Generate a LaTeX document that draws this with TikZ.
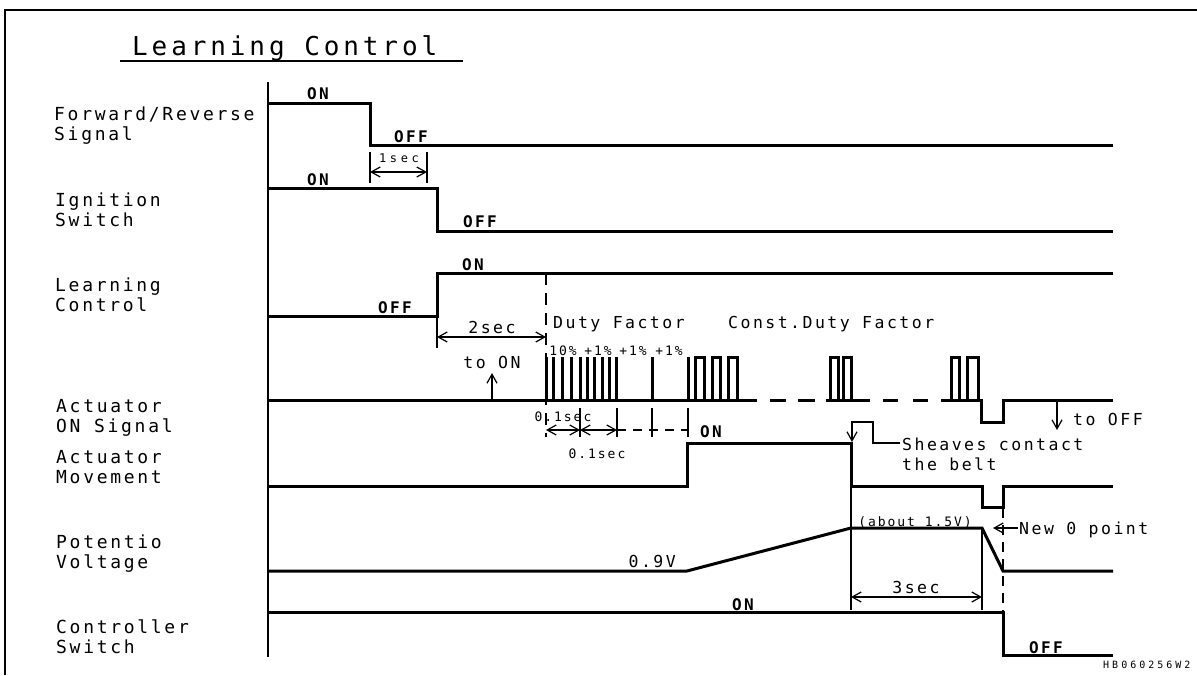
\documentclass[tikz,border=0pt]{standalone}
\usepackage{fontspec}
\usepackage{tikz}
\usetikzlibrary{arrows.meta}

\newfontfamily\tdfont[LetterSpace=15]{DejaVu Sans Mono}
\newfontfamily\codefont[LetterSpace=30]{DejaVu Sans Mono}
\newcommand{\titlesize}{\tdfont\fontsize{26pt}{26pt}\selectfont}
\newcommand{\rowsize}{\tdfont\fontsize{18pt}{18pt}\selectfont}
\newcommand{\midsize}{\tdfont\fontsize{16.5pt}{16.5pt}\selectfont}
\newcommand{\statesize}{\tdfont\bfseries\fontsize{16pt}{16pt}\selectfont}
\newcommand{\tinysize}{\tdfont\fontsize{13pt}{13pt}\selectfont}
\newcommand{\codesize}{\codefont\fontsize{10pt}{10pt}\selectfont}

\tikzset{
    sig/.style={line width=3pt},
    thinln/.style={line width=1.2pt},
    dimln/.style={thinln, <->},
    dashln/.style={thinln, dash pattern=on 12pt off 8pt},
    rowlbl/.style={font=\rowsize, anchor=base west, inner sep=0pt},
    state/.style={font=\statesize, anchor=base, inner sep=0pt},
    note/.style={font=\midsize, anchor=base west, inner sep=0pt},
    tiny/.style={font=\tinysize, anchor=base, inner sep=0pt},
}

\begin{document}
\begin{tikzpicture}[x=1pt, y=-1pt, >={Straight Barb[length=9pt,width=10pt]}]
    \useasboundingbox (0,0) rectangle (1197,675);

    % 1. Khung, tiêu đề và trục thời gian
    \draw[line width=1.4pt] (1197,10) -- (5,10) -- (5,675);
    \node[font=\titlesize, anchor=base west, inner sep=0pt] (title) at (132,55) {Learning Control};
    \draw[line width=1.4pt] (120,61) -- (463,61);
    \draw[thinln] (268,82) -- (268,657);

    % 2. Tên các tín hiệu
    \node[rowlbl] (fr1) at (54,120) {Forward/Reverse};
    \node[rowlbl] (fr2) at (54,140) {Signal};
    \node[rowlbl] (ig1) at (55,206) {Ignition};
    \node[rowlbl] (ig2) at (55,226) {Switch};
    \node[rowlbl] (lc1) at (55,291) {Learning};
    \node[rowlbl] (lc2) at (55,311) {Control};
    \node[rowlbl] (ac1) at (56,412) {Actuator};
    \node[rowlbl] (ac2) at (56,432) {ON Signal};
    \node[rowlbl] (mv1) at (56,463) {Actuator};
    \node[rowlbl] (mv2) at (56,483) {Movement};
    \node[rowlbl] (pv1) at (56,548) {Potentio};
    \node[rowlbl] (pv2) at (56,568) {Voltage};
    \node[rowlbl] (cs1) at (56,633) {Controller};
    \node[rowlbl] (cs2) at (56,653) {Switch};

    % 3. Forward/Reverse, Ignition, Learning Control
    \draw[sig] (268,103) -- (370,103) -- (370,145) -- (1113,145);
    \draw[sig] (268,188) -- (437,188) -- (437,231) -- (1113,231);
    \draw[sig] (268,316) -- (437,316) -- (437,273) -- (1113,273);
    \node[state] (fron) at (318,99) {ON};
    \node[state] (froff) at (411,142) {OFF};
    \node[state] (igon) at (318,185) {ON};
    \node[state] (igoff) at (480,227) {OFF};
    \node[state] (lcon) at (473,270) {ON};
    \node[state] (lcoff) at (395,313) {OFF};

    % 1sec, 2sec
    \draw[thinln] (370,152) -- (370,183);
    \draw[thinln] (427,152) -- (427,183);
    \draw[dimln] (370,172) -- (427,172);
    \node[font=\codefont\fontsize{12pt}{12pt}\selectfont, anchor=base, inner sep=0pt] (onesec) at (399,162) {1sec};
    \draw[thinln] (437,316) -- (437,348);
    \draw[dimln] (437,337) -- (546,337);
    \node[font=\midsize, anchor=base, inner sep=0pt] (twosec) at (492,333) {2sec};
    \draw[dashln] (546,273) -- (546,437);

    % 4. Actuator ON Signal
    \node[note] (duty) at (553,328) {Duty Factor};
    \node[note] (cduty) at (728,328) {Const.Duty Factor};
    \foreach \i/\x/\t in {1/563/10\%, 2/598/+1\%, 3/633/+1\%, 4/669/+1\%}
        \node[tiny] (pc\i) at (\x,355) {\t};
    \node[font=\midsize, anchor=base, inner sep=0pt] (toon) at (492,368) {to ON};
    \draw[thinln, ->] (492,400) -- (492,373);

    \draw[sig] (268,400) -- (757,400);
    \foreach \x in {546,553,562,571,580,587,594,602,609,616,652,688}
        \draw[sig] (\x,400) -- (\x,357);
    \foreach \a/\b in {695/704, 712/720, 728/737, 830/838, 843/851, 951/959, 967/978}
        \draw[sig] (\a,400) |- (\b,357) -- (\b,400);
    \foreach \a/\b in {770/786, 798/815, 883/898, 913/928}
        \draw[sig] (\a,400) -- (\b,400);
    \draw[sig] (826,400) -- (870,400);
    \draw[sig] (941,400) -- (981,400) -- (981,422) -- (1003,422) -- (1003,400) -- (1113,400);
    \draw[thinln, ->] (1057,401) -- (1057,430);
    \node[note] (tooff) at (1073,425) {to OFF};

    % 0.1sec
    \foreach \x in {580,617,652,688}
        \draw[thinln] (\x,408) -- (\x,437);
    \draw[dimln] (546,430) -- (580,430);
    \draw[dimln] (580,430) -- (617,430);
    \draw[thinln, dash pattern=on 9pt off 7pt] (617,430) -- (688,430);
    \node[tiny] (dt1) at (563,421) {0.1sec};
    \node[tiny] (dt2) at (597,458) {0.1sec};

    % 5. Actuator Movement
    \draw[sig] (268,486) -- (687,486) -- (687,443) -- (851,443) -- (851,486)
        -- (982,486) -- (982,507) -- (1003,507) -- (1003,486) -- (1113,486);
    \node[state] (mvon) at (711,437) {ON};
    \draw[thinln, ->] (900,443) -- (873,443) -- (873,422) -- (852,422) -- (852,442);
    \node[note] (sh1) at (902,450) {Sheaves contact};
    \node[note] (sh2) at (902,470) {the belt};

    % 6. Potentio Voltage
    \draw[sig] (268,571) -- (687,571) -- (851,528) -- (982,528) -- (1003,571) -- (1113,571);
    \node[font=\midsize, anchor=base east, inner sep=0pt] (lowv) at (676,567) {0.9V};
    \node[tiny] (highv) at (915,526) {(about 1.5V)};
    \draw[thinln, ->] (1018,528) -- (993,528);
    \node[note] (zero) at (1019,534) {New 0 point};
    \draw[thinln] (851,486) -- (851,610);
    \draw[thinln] (982,528) -- (982,610);
    \draw[thinln, dash pattern=on 10pt off 7pt] (1003,508) -- (1003,612);
    \draw[dimln] (851,597) -- (982,597);
    \node[font=\midsize, anchor=base, inner sep=0pt] (threesec) at (916,593) {3sec};

    % 7. Controller Switch
    \draw[sig] (268,612) -- (1003,612) -- (1003,655) -- (1113,655);
    \node[state] (cson) at (743,610) {ON};
    \node[state] (csoff) at (1046,653) {OFF};
    \node[font=\codesize, anchor=base west, inner sep=0pt] (code) at (1103,668) {HB060256W2};
\end{tikzpicture}
\end{document}
